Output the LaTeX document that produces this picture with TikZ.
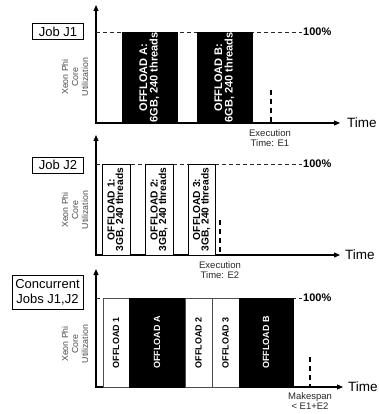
\documentclass[tikz,border=0pt]{standalone}
\usepackage{fontspec}
\setmainfont{Liberation Sans}
\usetikzlibrary{arrows.meta, positioning}

\begin{document}
\begin{tikzpicture}[
  x=1pt, y=-1pt,
  axis/.style={line width=1.1pt, {Triangle[length=6pt,width=5pt]}-{Triangle[length=6pt,width=5pt]}},
  jobbox/.style={draw, line width=0.9pt, font=\fontsize{13}{15}\selectfont, align=center, inner sep=1pt},
  full/.style={draw, black!85, dash pattern=on 4pt off 3pt, line width=0.8pt},
  fulllbl/.style={font=\fontsize{11}{13}\bfseries\selectfont, anchor=west, inner sep=1pt},
  endmark/.style={line width=1.3pt, dash pattern=on 5pt off 4pt},
  endlbl/.style={font=\fontsize{9.5}{10.5}\selectfont, text=black!85, align=center, anchor=north, inner sep=0pt},
  timelbl/.style={font=\fontsize{13.5}{15}\selectfont, anchor=west, inner sep=1pt},
  ylbl/.style={font=\fontsize{8.8}{10}\selectfont, text=black!70, align=center, rotate=90},
  darkblk/.style={fill=black, draw=black, text=white, rotate=90, inner sep=0pt, align=center, font=\fontsize{11}{10.5}\bfseries\selectfont},
  lightblk/.style={fill=white, draw=black, line width=0.7pt, rotate=90, inner sep=0pt, align=center, font=\fontsize{10.2}{8.5}\bfseries\selectfont},
  small/.style={font=\fontsize{9}{9}\bfseries\selectfont}
]
\useasboundingbox (0,0) rectangle (378,414);

% ---- Job J1
\coordinate (ytop1) at (96,5);
\coordinate (xend1) at (340,123);
\draw[axis] (ytop1) |- (xend1);
\node[timelbl] (t1) at (346,123) {Time};
\coordinate (f1) at (96,32);
\node[fulllbl] (p1) at (302,32) {100\%};
\draw[full] (f1) -- (p1.west);
\node[jobbox, minimum width=51pt, minimum height=16pt] (j1) at (58,31.5) {Job J1};
\node[ylbl] (u1) at (75,77) {Xeon Phi\\Core\\Utilization};
\node[darkblk, minimum width=91pt, minimum height=55pt] (offA1) at (149.5,77.5) {OFFLOAD A:\\6GB, 240 threads};
\node[darkblk, minimum width=91pt, minimum height=55pt] (offB1) at (224.5,77.5) {OFFLOAD B:\\6GB, 240 threads};
\coordinate (e1top) at (271,90);
\coordinate (e1) at (271,123);
\draw[endmark] (e1top) -- (e1);
\node[endlbl] (x1) at (270,129) {Execution\\Time: E1};

% ---- Job J2
\coordinate (ytop2) at (96,135);
\coordinate (xend2) at (340,255);
\draw[axis] (ytop2) |- (xend2);
\node[timelbl] (t2) at (344,255) {Time};
\coordinate (f2) at (96,164);
\node[fulllbl] (p2) at (302,164) {100\%};
\draw[full] (f2) -- (p2.west);
\node[jobbox, minimum width=51pt, minimum height=16pt] (j2) at (58,165) {Job J2};
\node[ylbl] (u2) at (75,210) {Xeon Phi\\Core\\Utilization};
\node[lightblk, minimum width=91pt, minimum height=28pt] (off1) at (116,209.5) {OFFLOAD 1:\\3GB, 240 threads};
\node[lightblk, minimum width=91pt, minimum height=28pt] (off2) at (159,209.5) {OFFLOAD 2:\\3GB, 240 threads};
\node[lightblk, minimum width=91pt, minimum height=27pt] (off3) at (201.5,209.5) {OFFLOAD 3:\\3GB, 240 threads};
\coordinate (e2top) at (220,220);
\coordinate (e2) at (220,255);
\draw[endmark] (e2top) -- (e2);
\node[endlbl] (x2) at (220,261) {Execution\\Time: E2};

% ---- concurrent J1, J2
\coordinate (ytop3) at (96,269);
\coordinate (xend3) at (343,387);
\draw[axis] (ytop3) |- (xend3);
\node[timelbl] (t3) at (347,387) {Time};
\coordinate (f3) at (96,298);
\node[fulllbl] (p3) at (302,298) {100\%};
\draw[full] (f3) -- (p3.west);
\node[jobbox, minimum width=71pt, minimum height=34pt, inner sep=0pt] (j3) at (47.5,292) {Concurrent\\Jobs J1,J2};
\node[ylbl] (u3) at (75,344) {Xeon Phi\\Core\\Utilization};
\node[lightblk, small, draw=black!70, minimum width=89pt, minimum height=26pt] (c1) at (116,342.5) {OFFLOAD 1};
\node[darkblk, small, minimum width=89pt, minimum height=56pt] (cA) at (157,342.5) {OFFLOAD A};
\node[lightblk, small, draw=black!70, minimum width=89pt, minimum height=27pt] (c2) at (198.5,342.5) {OFFLOAD 2};
\node[lightblk, small, draw=black!70, minimum width=89pt, minimum height=27pt] (c3) at (225.5,342.5) {OFFLOAD 3};
\node[darkblk, small, minimum width=89pt, minimum height=54pt] (cB) at (266,342.5) {OFFLOAD B};
\coordinate (e3top) at (310,357);
\coordinate (e3) at (310,387);
\draw[endmark] (e3top) -- (e3);
\node[endlbl] (x3) at (310,392) {Makespan\\< E1+E2};
\end{tikzpicture}
\end{document}
